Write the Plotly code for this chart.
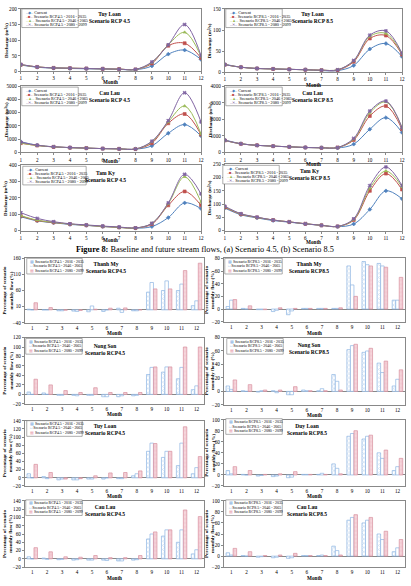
import plotly.graph_objects as go

W, H = 411, 586
months = list(range(1, 13))
SERIF = "Liberation Serif"

# ---------------- line chart data (discharge m3/s) ----------------
tl45 = {
    "cur": [20, 13, 10, 9, 8, 7, 6, 5, 17, 55, 68, 38],
    "p1": [21, 14, 11, 10, 9, 8, 7, 6, 25, 82, 90, 43],
    "p2": [21, 14, 11, 10, 9, 8, 7, 6, 28, 85, 125, 48],
    "p3": [22, 14, 11, 10, 9, 8, 7, 6, 30, 85, 150, 50],
}
tl85 = {
    "cur": [19, 12, 9, 8, 7, 6, 4, 4, 16, 55, 68, 37],
    "p1": [18, 12, 9, 8, 7, 6, 5, 5, 25, 80, 87, 42],
    "p2": [18, 12, 9, 8, 7, 6, 5, 6, 27, 85, 92, 44],
    "p3": [18, 12, 9, 8, 7, 6, 5, 6, 28, 88, 98, 45],
}
cl45 = {
    "cur": [800, 550, 420, 360, 320, 290, 270, 250, 500, 1450, 2100, 1250],
    "p1": [700, 520, 420, 360, 330, 290, 270, 260, 700, 2200, 2900, 1350],
    "p2": [700, 520, 420, 360, 330, 290, 270, 260, 800, 2300, 3500, 1400],
    "p3": [780, 540, 430, 370, 330, 290, 270, 260, 850, 2400, 4500, 2300],
}
cl85 = {
    "cur": [750, 530, 430, 380, 340, 300, 280, 270, 500, 1400, 2100, 1200],
    "p1": [720, 520, 430, 380, 340, 300, 280, 300, 750, 2200, 2800, 1400],
    "p2": [720, 520, 430, 380, 340, 300, 280, 300, 800, 2400, 3050, 1500],
    "p3": [730, 520, 430, 380, 340, 300, 280, 300, 850, 2500, 3100, 1500],
}
tk45 = {
    "cur": [85, 60, 48, 38, 32, 25, 20, 15, 25, 80, 170, 135],
    "p1": [90, 62, 50, 40, 33, 26, 20, 16, 40, 155, 240, 155],
    "p2": [92, 64, 51, 40, 33, 26, 20, 16, 45, 165, 330, 175],
    "p3": [110, 75, 55, 42, 35, 28, 22, 17, 45, 170, 345, 225],
}
tk85 = {
    "cur": [85, 60, 48, 38, 32, 25, 20, 15, 25, 80, 150, 120],
    "p1": [88, 62, 50, 40, 33, 26, 20, 16, 40, 150, 215, 155],
    "p2": [90, 63, 50, 40, 33, 26, 20, 16, 42, 160, 225, 165],
    "p3": [92, 64, 51, 40, 33, 26, 20, 16, 45, 170, 240, 170],
}

# ---------------- bar chart data (% change) ----------------
tm45 = {
    "p1": [2, 0, -3, -4, -6, -5, 5, -3, 55, 60, 60, 13],
    "p2": [0, 0, -3, -5, 12, 0, -8, -3, 85, 90, 80, 28],
    "p3": [22, 7, -1, -2, 2, 5, 6, 0, 65, 65, 122, 145],
}
tm85 = {
    "p1": [4, 1, -1, -4, -9, 1, 1, 1, 68, 75, 72, 14],
    "p2": [14, 0, -1, -2, -3, 1, 1, 1, 38, 70, 68, 14],
    "p3": [15, 5, -1, 2, 1, 1, 1, 2, 20, 68, 66, 50],
}
ns45 = {
    "p1": [5, 3, -2, -2, -2, -5, -5, -3, 42, 47, 33, 10],
    "p2": [0, 0, -2, -3, -2, -5, -3, -2, 57, 58, 57, 18],
    "p3": [32, 20, 8, 4, 14, 4, 4, 4, 58, 58, 100, 100],
}
ns85 = {
    "p1": [8, 1, -1, 1, -5, 2, 1, 25, 62, 58, 42, 8],
    "p2": [3, 0, 1, -2, -5, 1, 4, 15, 68, 60, 28, 18],
    "p3": [17, 10, 2, 2, 7, 1, 1, 2, 70, 64, 45, 32],
}
tl45b = {
    "p1": [10, 3, -5, -5, -3, -3, -2, 5, 65, 50, 30, 10],
    "p2": [0, -2, -3, -5, -3, 0, -2, 10, 85, 65, 85, 25],
    "p3": [33, 13, -3, -2, 5, 12, 13, 17, 84, 65, 125, 52],
}
tl85b = {
    "p1": [8, 1, -2, -3, -5, 1, 1, 20, 70, 65, 40, 8],
    "p2": [2, 0, -1, -2, -4, 1, 3, 12, 75, 70, 30, 15],
    "p3": [15, 8, 1, 2, 6, 1, 1, 2, 80, 72, 45, 30],
}
cl45b = {
    "p1": [5, 2, -2, -3, -3, -3, -5, -3, 48, 55, 40, 12],
    "p2": [0, -1, -1, -2, -3, -4, -5, -2, 60, 70, 70, 22],
    "p3": [27, 17, 5, 4, 8, 3, 3, 8, 65, 70, 118, 102],
}
cl85b = {
    "p1": [6, 1, -2, -3, -4, 1, 1, 18, 65, 60, 40, 8],
    "p2": [2, 0, -1, -2, -3, 1, 2, 10, 70, 65, 30, 15],
    "p3": [14, 8, 1, 2, 5, 1, 1, 2, 75, 70, 45, 30],
}

line_cols = ["#4F81BD", "#C0504D", "#9BBB59", "#8064A2"]
line_syms = ["diamond", "square", "triangle-up", "x"]
periods = ["2016 - 2035", "2046 - 2065", "2080 - 2099"]

fig = go.Figure()
annotations = []
shapes = []


def dom(x0, x1, yt, yb):
    return [x0 / W, x1 / W], [1 - yb / H, 1 - yt / H]


def ax_common():
    return dict(showline=True, linecolor="#888888", linewidth=0.8, mirror=True,
                ticks="outside", ticklen=2, tickcolor="#888888", showgrid=False,
                zeroline=False,
                tickfont=dict(family=SERIF, size=5.2, color="black"))


def text_at(x, y, t, size=5.5, angle=0, anchor="center"):
    annotations.append(dict(xref="paper", yref="paper", x=x / W, y=1 - y / H,
                            xanchor=anchor, yanchor="middle", showarrow=False, textangle=angle,
                            text=t, font=dict(family=SERIF, size=size, color="black")))


def legend_box(x0, x1, yt, lines, dy, fs):
    shapes.append(dict(type="rect", xref="paper", yref="paper",
                       x0=x0 / W, x1=x1 / W, y0=1 - (yt + dy * len(lines) + 2) / H, y1=1 - yt / H,
                       line=dict(color="#777777", width=0.6), fillcolor="white", layer="above"))
    for k, t in enumerate(lines):
        text_at(x0 + 1.2, yt + 1 + dy * (k + 0.5), t, size=fs, anchor="left")


def title(xc, y1, name, scen, size=5.5):
    annotations.append(dict(xref="paper", yref="paper", x=xc / W, y=1 - y1 / H,
                            xanchor="center", yanchor="top", showarrow=False,
                            text=f"<b>{name}</b><br><b>{scen}</b>",
                            font=dict(family=SERIF, size=size, color="black")))


def line_panel(i, data, box, yrange, dtick, name, scen_title, rcp, leg, tpos, ytx, month_pos):
    x0, x1, yt, yb = box
    dx, dy = dom(x0, x1, yt, yb)
    xa = "x" if i == 1 else f"x{i}"
    ya = "y" if i == 1 else f"y{i}"
    for k, key in enumerate(["cur", "p1", "p2", "p3"]):
        fig.add_trace(go.Scatter(
            x=months, y=data[key], xaxis=xa, yaxis=ya, mode="lines+markers",
            line=dict(color=line_cols[k], width=1, shape="spline", smoothing=1),
            marker=dict(symbol=line_syms[k], size=3, color=line_cols[k],
                        line=dict(width=0.6, color=line_cols[k])),
            showlegend=False))
    xd = ax_common()
    xd.update(domain=dx, anchor=ya, range=[1, 12], tickvals=months)
    yd = ax_common()
    yd.update(domain=dy, anchor=xa, range=yrange, dtick=dtick)
    fig.layout["xaxis" if i == 1 else f"xaxis{i}"] = xd
    fig.layout["yaxis" if i == 1 else f"yaxis{i}"] = yd
    sym = ["–◆–", "–■–", "–▲–", "–✕–"]
    lines = [f"<span style='color:{line_cols[0]}'>{sym[0]}</span> Current"] + [
        f"<span style='color:{line_cols[k + 1]}'>{sym[k + 1]}</span> Scenario {rcp} - {periods[k]}"
        for k in range(3)]
    legend_box(leg[0], leg[1], leg[2], lines, 4.2, 4.2)
    title(tpos[0], tpos[1], name, scen_title)
    text_at(ytx, (yt + yb) / 2, "<b>Discharge (m³/s)</b>", size=5, angle=-90)
    text_at(month_pos[0], month_pos[1], "<b>Month</b>", size=5.2)


bar_fill = [
    dict(color="white", line=dict(color="#8DB4E2", width=0.7),
         pattern=dict(shape="x", fgcolor="#8DB4E2", bgcolor="white", size=3, solidity=0.35)),
    dict(color="white", line=dict(color="#8DB4E2", width=0.7)),
    dict(color="#F2C4CD", line=dict(color="#D9919F", width=0.7),
         pattern=dict(shape="+", fgcolor="#E8A3B1", bgcolor="#F6D6DC", size=4, solidity=0.3)),
]


def bar_panel(i, data, box, yrange, dtick, tick0, name, scen_title, rcp, leg, tpos, ytx, month_y):
    x0, x1, yt, yb = box
    dx, dy = dom(x0, x1, yt, yb)
    xa, ya = f"x{i}", f"y{i}"
    for k, key in enumerate(["p1", "p2", "p3"]):
        fig.add_trace(go.Bar(x=months, y=data[key], xaxis=xa, yaxis=ya,
                             marker=bar_fill[k], showlegend=False))
    xd = ax_common()
    xd.update(domain=dx, anchor=ya, range=[0.5, 12.5], tickvals=months, ticks="")
    yd = ax_common()
    yd.update(domain=dy, anchor=xa, range=yrange, dtick=dtick, tick0=tick0,
              zeroline=True, zerolinecolor="#888888", zerolinewidth=0.8)
    fig.layout[f"xaxis{i}"] = xd
    fig.layout[f"yaxis{i}"] = yd
    sym_cols = ["#8DB4E2", "#8DB4E2", "#E8A3B1"]
    syms = ["▩", "□", "▦"]
    lines = [f"<span style='color:{sym_cols[k]}'>{syms[k]}</span> Scenario {rcp} - {periods[k]}"
             for k in range(3)]
    legend_box(leg[0], leg[1], leg[2], lines, 4.6, 3.9)
    title(tpos[0], tpos[1], name, scen_title)
    text_at(ytx, (yt + yb) / 2, "<b>Percentage of scenario<br>monthly flow (%)</b>", size=5, angle=-90)
    text_at((x0 + x1) / 2, month_y, "<b>Month</b>", size=5.2)


# line panels
line_panel(1, tl45, (20, 202, 6, 69), [0, 200], 50, "Tuy Loan", "Scenario RCP 4.5", "RCP4.5",
           (21, 78, 6), (110, 6), 5, (111, 79.5))
line_panel(2, tl85, (226, 405, 6, 70), [0, 150], 50, "Tuy Loan", "Scenario RCP 8.5", "RCP8.5",
           (227, 284, 6), (315, 6), 211, (316, 82.5))
line_panel(3, cl45, (20, 202, 84, 151), [0, 5000], 1000, "Cau Lau", "Scenario RCP 4.5", "RCP4.5",
           (21, 78, 85), (110, 86), 5, (111, 160))
line_panel(4, cl85, (226, 405, 84, 151), [0, 4000], 1000, "Cau Lau", "Scenario RCP 8.5", "RCP8.5",
           (227, 284, 85), (315, 86), 211, (316, 162.5))
line_panel(5, tk45, (20, 202, 164, 230), [0, 400], 100, "Tam Ky", "Scenario RCP 4.5", "RCP4.5",
           (22, 86, 165), (106, 167), 5, (111, 239))
line_panel(6, tk85, (226, 405, 163, 230), [0, 250], 50, "Tam Ky", "Scenario RCP 8.5", "RCP8.5",
           (224, 281, 164), (312, 165), 211, (316, 241))

# bar panels
bar_panel(7, tm45, (24, 205, 258, 323), [-40, 160], 50, -40, "Thanh My", "Scenario RCP4.5", "RCP4.5",
          (26, 82, 258), (106, 259), 7, 333.5)
bar_panel(8, tm85, (225, 408, 258, 322), [-20, 80], 20, 0, "Thanh My", "Scenario RCP8.5", "RCP8.5",
          (226, 284, 258), (311, 259), 211, 333.5)
bar_panel(9, ns45, (24, 205, 338, 405), [-20, 120], 20, 0, "Nong Son", "Scenario RCP4.5", "RCP4.5",
          (25, 82, 339), (105, 341), 7, 415.5)
bar_panel(10, ns85, (225, 408, 338, 406), [-20, 80], 20, 0, "Nong Son", "Scenario RCP8.5", "RCP8.5",
          (228, 285, 339), (311, 340), 211, 416.5)
bar_panel(11, tl45b, (24, 205, 422, 488), [-20, 140], 20, 0, "Tuy Loan", "Scenario RCP4.5", "RCP4.5",
          (26, 82, 422), (105, 422), 7, 498.5)
bar_panel(12, tl85b, (225, 408, 421, 488), [-20, 100], 20, 0, "Duy Loan", "Scenario RCP8.5", "RCP8.5",
          (227, 284, 420), (309, 422), 211, 498.5)
bar_panel(13, cl45b, (24, 205, 503, 570), [-20, 140], 20, 0, "Cau Lau", "Scenario RCP4.5", "RCP4.5",
          (25, 82, 502), (105, 504), 7, 580.5)
bar_panel(14, cl85b, (225, 408, 503, 570), [-20, 100], 20, 0, "Cau Lau", "Scenario RCP8.5", "RCP8.5",
          (227, 284, 502), (309, 504), 211, 580.5)

# caption
text_at(206, 249, "<b>Figure 8:</b> Baseline and future stream flows, (a) Scenario 4.5, (b) Scenario 8.5",
        size=8.3)

fig.update_layout(width=W, height=H, margin=dict(l=0, r=0, t=0, b=0),
                  paper_bgcolor="white", plot_bgcolor="white", showlegend=False,
                  barmode="group", bargap=0.3, bargroupgap=0.0,
                  annotations=annotations, shapes=shapes)

fig.write_html("out.html")
